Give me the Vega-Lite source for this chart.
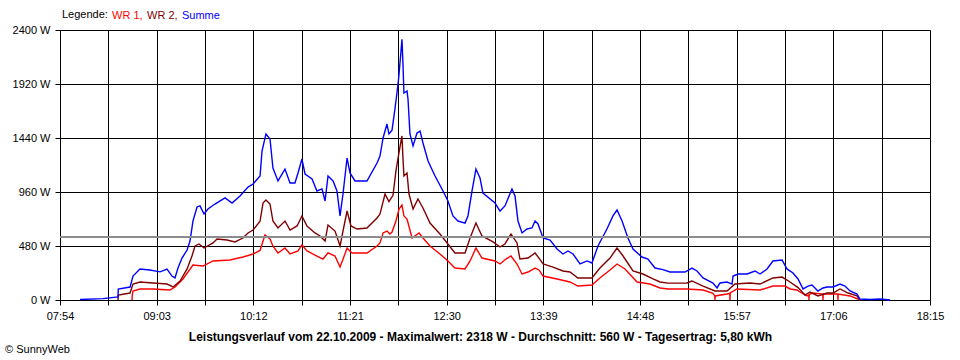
{
"$schema": "https://vega.github.io/schema/vega-lite/v6.json",
"width": 870, "height": 270,
"autosize": {"type": "none"},
"padding": {"left": 60, "top": 30, "right": 30, "bottom": 60},
"background": "white",
"config": {
  "view": {"stroke": null},
  "font": "Liberation Sans",
  "axis": {"domainColor": "black", "gridColor": "black", "gridOpacity": 1, "gridWidth": 1, "tickColor": "black", "tickSize": 5, "labelColor": "black", "labelFont": "Liberation Sans", "labelFontSize": 11, "labelPadding": 5, "domainWidth": 1}
},
"title": {"text": "© SunnyWeb", "orient": "bottom", "anchor": "start", "frame": "bounds", "font": "Liberation Sans", "fontSize": 11, "fontWeight": "normal", "color": "black", "offset": 0, "dx": -7, "dy": 2},
"datasets": {
"d": [
{"t":525.4,"s":"WR 1","w":0},{"t":525.5,"s":"WR 1","w":36},{"t":526.1,"s":"WR 1","w":80},{"t":531.1,"s":"WR 1","w":98},{"t":540.4,"s":"WR 1","w":98},{"t":552.5,"s":"WR 1","w":89},{"t":556.1,"s":"WR 1","w":116},{"t":561.8,"s":"WR 1","w":187},{"t":568.9,"s":"WR 1","w":311},{"t":576.1,"s":"WR 1","w":302},{"t":583.2,"s":"WR 1","w":347},{"t":595.3,"s":"WR 1","w":356},{"t":604.6,"s":"WR 1","w":382},{"t":611.8,"s":"WR 1","w":409},{"t":616.8,"s":"WR 1","w":440},{"t":620.3,"s":"WR 1","w":578},{"t":623.9,"s":"WR 1","w":542},{"t":626.0,"s":"WR 1","w":480},{"t":629.6,"s":"WR 1","w":418},{"t":634.6,"s":"WR 1","w":462},{"t":638.2,"s":"WR 1","w":409},{"t":643.9,"s":"WR 1","w":436},{"t":646.7,"s":"WR 1","w":489},{"t":650.3,"s":"WR 1","w":436},{"t":657.4,"s":"WR 1","w":391},{"t":661.7,"s":"WR 1","w":364},{"t":665.3,"s":"WR 1","w":418},{"t":670.3,"s":"WR 1","w":391},{"t":673.9,"s":"WR 1","w":293},{"t":677.4,"s":"WR 1","w":409},{"t":678.9,"s":"WR 1","w":462},{"t":682.4,"s":"WR 1","w":418},{"t":693.1,"s":"WR 1","w":418},{"t":700.3,"s":"WR 1","w":480},{"t":702.4,"s":"WR 1","w":507},{"t":704.6,"s":"WR 1","w":596},{"t":707.4,"s":"WR 1","w":613},{"t":709.5,"s":"WR 1","w":587},{"t":711.0,"s":"WR 1","w":604},{"t":713.8,"s":"WR 1","w":702},{"t":716.0,"s":"WR 1","w":809},{"t":718.1,"s":"WR 1","w":844},{"t":719.5,"s":"WR 1","w":747},{"t":721.7,"s":"WR 1","w":720},{"t":725.3,"s":"WR 1","w":551},{"t":730.3,"s":"WR 1","w":596},{"t":733.1,"s":"WR 1","w":551},{"t":738.1,"s":"WR 1","w":480},{"t":745.2,"s":"WR 1","w":409},{"t":750.9,"s":"WR 1","w":347},{"t":755.9,"s":"WR 1","w":284},{"t":763.1,"s":"WR 1","w":276},{"t":766.7,"s":"WR 1","w":347},{"t":770.9,"s":"WR 1","w":462},{"t":775.2,"s":"WR 1","w":373},{"t":784.5,"s":"WR 1","w":347},{"t":788.1,"s":"WR 1","w":320},{"t":792.3,"s":"WR 1","w":364},{"t":795.9,"s":"WR 1","w":391},{"t":800.2,"s":"WR 1","w":320},{"t":803.8,"s":"WR 1","w":231},{"t":808.1,"s":"WR 1","w":249},{"t":813.1,"s":"WR 1","w":284},{"t":815.9,"s":"WR 1","w":267},{"t":818.8,"s":"WR 1","w":213},{"t":828.8,"s":"WR 1","w":187},{"t":838.0,"s":"WR 1","w":160},{"t":843.7,"s":"WR 1","w":124},{"t":853.7,"s":"WR 1","w":133},{"t":859.4,"s":"WR 1","w":196},{"t":866.6,"s":"WR 1","w":267},{"t":871.6,"s":"WR 1","w":320},{"t":877.3,"s":"WR 1","w":276},{"t":885.9,"s":"WR 1","w":160},{"t":895.1,"s":"WR 1","w":142},{"t":902.3,"s":"WR 1","w":107},{"t":908.0,"s":"WR 1","w":98},{"t":921.5,"s":"WR 1","w":98},{"t":933.0,"s":"WR 1","w":89},{"t":940.1,"s":"WR 1","w":60},{"t":941.4,"s":"WR 1","w":36},{"t":941.5,"s":"WR 1","w":0},{"t":941.7,"s":"WR 1","w":36},{"t":950.1,"s":"WR 1","w":53},{"t":952.1,"s":"WR 1","w":60},{"t":952.2,"s":"WR 1","w":0},{"t":952.4,"s":"WR 1","w":62},{"t":957.2,"s":"WR 1","w":98},{"t":973.7,"s":"WR 1","w":89},{"t":982.9,"s":"WR 1","w":124},{"t":991.5,"s":"WR 1","w":124},{"t":995.1,"s":"WR 1","w":98},{"t":1000.1,"s":"WR 1","w":89},{"t":1002.2,"s":"WR 1","w":71},{"t":1007.2,"s":"WR 1","w":36},{"t":1008.5,"s":"WR 1","w":45},{"t":1008.6,"s":"WR 1","w":0},{"t":1008.8,"s":"WR 1","w":50},{"t":1011.5,"s":"WR 1","w":62},{"t":1018.5,"s":"WR 1","w":53},{"t":1018.6,"s":"WR 1","w":0},{"t":1018.8,"s":"WR 1","w":53},{"t":1029.2,"s":"WR 1","w":53},{"t":1029.3,"s":"WR 1","w":0},{"t":1029.5,"s":"WR 1","w":53},{"t":1037.9,"s":"WR 1","w":36},{"t":1043.6,"s":"WR 1","w":9},{"t":1045.0,"s":"WR 1","w":0},

{"t":515.4,"s":"WR 2","w":0},{"t":515.6,"s":"WR 2","w":44},{"t":524.0,"s":"WR 2","w":62},{"t":526.1,"s":"WR 2","w":142},{"t":531.1,"s":"WR 2","w":160},{"t":540.4,"s":"WR 2","w":151},{"t":550.4,"s":"WR 2","w":142},{"t":554.7,"s":"WR 2","w":116},{"t":559.7,"s":"WR 2","w":169},{"t":564.7,"s":"WR 2","w":276},{"t":568.2,"s":"WR 2","w":391},{"t":570.4,"s":"WR 2","w":480},{"t":573.2,"s":"WR 2","w":498},{"t":576.8,"s":"WR 2","w":462},{"t":583.2,"s":"WR 2","w":507},{"t":586.1,"s":"WR 2","w":542},{"t":593.2,"s":"WR 2","w":533},{"t":598.9,"s":"WR 2","w":516},{"t":604.6,"s":"WR 2","w":551},{"t":608.2,"s":"WR 2","w":596},{"t":611.8,"s":"WR 2","w":622},{"t":616.8,"s":"WR 2","w":700},{"t":618.9,"s":"WR 2","w":862},{"t":621.0,"s":"WR 2","w":889},{"t":623.9,"s":"WR 2","w":853},{"t":626.0,"s":"WR 2","w":702},{"t":629.6,"s":"WR 2","w":640},{"t":634.6,"s":"WR 2","w":702},{"t":638.2,"s":"WR 2","w":622},{"t":643.2,"s":"WR 2","w":658},{"t":646.7,"s":"WR 2","w":747},{"t":650.3,"s":"WR 2","w":658},{"t":656.0,"s":"WR 2","w":596},{"t":659.6,"s":"WR 2","w":569},{"t":663.2,"s":"WR 2","w":524},{"t":665.3,"s":"WR 2","w":667},{"t":670.3,"s":"WR 2","w":613},{"t":673.9,"s":"WR 2","w":480},{"t":676.0,"s":"WR 2","w":613},{"t":678.9,"s":"WR 2","w":791},{"t":681.7,"s":"WR 2","w":658},{"t":686.0,"s":"WR 2","w":631},{"t":693.1,"s":"WR 2","w":640},{"t":700.3,"s":"WR 2","w":729},{"t":702.4,"s":"WR 2","w":764},{"t":706.0,"s":"WR 2","w":942},{"t":708.8,"s":"WR 2","w":875},{"t":711.7,"s":"WR 2","w":930},{"t":713.8,"s":"WR 2","w":1147},{"t":715.3,"s":"WR 2","w":1262},{"t":717.4,"s":"WR 2","w":1413},{"t":718.1,"s":"WR 2","w":1458},{"t":718.8,"s":"WR 2","w":1262},{"t":719.5,"s":"WR 2","w":1102},{"t":721.7,"s":"WR 2","w":1129},{"t":723.1,"s":"WR 2","w":942},{"t":726.0,"s":"WR 2","w":809},{"t":729.5,"s":"WR 2","w":898},{"t":733.1,"s":"WR 2","w":818},{"t":738.1,"s":"WR 2","w":684},{"t":745.2,"s":"WR 2","w":587},{"t":750.9,"s":"WR 2","w":498},{"t":755.9,"s":"WR 2","w":418},{"t":763.1,"s":"WR 2","w":418},{"t":766.7,"s":"WR 2","w":551},{"t":770.9,"s":"WR 2","w":684},{"t":775.2,"s":"WR 2","w":569},{"t":783.1,"s":"WR 2","w":516},{"t":788.1,"s":"WR 2","w":471},{"t":791.6,"s":"WR 2","w":498},{"t":795.9,"s":"WR 2","w":587},{"t":800.2,"s":"WR 2","w":507},{"t":802.3,"s":"WR 2","w":364},{"t":808.1,"s":"WR 2","w":373},{"t":813.1,"s":"WR 2","w":418},{"t":815.9,"s":"WR 2","w":373},{"t":818.8,"s":"WR 2","w":320},{"t":825.9,"s":"WR 2","w":293},{"t":833.0,"s":"WR 2","w":258},{"t":838.0,"s":"WR 2","w":249},{"t":843.7,"s":"WR 2","w":196},{"t":853.7,"s":"WR 2","w":196},{"t":859.4,"s":"WR 2","w":284},{"t":866.6,"s":"WR 2","w":373},{"t":871.6,"s":"WR 2","w":462},{"t":875.9,"s":"WR 2","w":391},{"t":883.0,"s":"WR 2","w":258},{"t":890.1,"s":"WR 2","w":231},{"t":897.3,"s":"WR 2","w":187},{"t":902.3,"s":"WR 2","w":160},{"t":908.0,"s":"WR 2","w":150},{"t":921.5,"s":"WR 2","w":151},{"t":925.1,"s":"WR 2","w":169},{"t":933.0,"s":"WR 2","w":124},{"t":941.5,"s":"WR 2","w":80},{"t":950.1,"s":"WR 2","w":80},{"t":955.8,"s":"WR 2","w":142},{"t":966.5,"s":"WR 2","w":151},{"t":973.7,"s":"WR 2","w":142},{"t":982.9,"s":"WR 2","w":196},{"t":989.4,"s":"WR 2","w":204},{"t":995.1,"s":"WR 2","w":160},{"t":1000.8,"s":"WR 2","w":110},{"t":1005.8,"s":"WR 2","w":44},{"t":1009.3,"s":"WR 2","w":71},{"t":1015.0,"s":"WR 2","w":36},{"t":1021.5,"s":"WR 2","w":62},{"t":1025.8,"s":"WR 2","w":62},{"t":1030.8,"s":"WR 2","w":98},{"t":1036.5,"s":"WR 2","w":62},{"t":1042.9,"s":"WR 2","w":36},{"t":1045.0,"s":"WR 2","w":0},

{"t":488.3,"s":"Summe","w":5},{"t":504.7,"s":"Summe","w":12},{"t":515.4,"s":"Summe","w":27},{"t":515.6,"s":"Summe","w":98},{"t":524.0,"s":"Summe","w":115},{"t":526.1,"s":"Summe","w":213},{"t":531.1,"s":"Summe","w":275},{"t":538.2,"s":"Summe","w":267},{"t":545.4,"s":"Summe","w":250},{"t":550.4,"s":"Summe","w":275},{"t":553.9,"s":"Summe","w":213},{"t":556.1,"s":"Summe","w":196},{"t":558.2,"s":"Summe","w":285},{"t":561.1,"s":"Summe","w":373},{"t":564.7,"s":"Summe","w":444},{"t":566.8,"s":"Summe","w":524},{"t":568.9,"s":"Summe","w":702},{"t":571.8,"s":"Summe","w":827},{"t":573.9,"s":"Summe","w":836},{"t":576.8,"s":"Summe","w":764},{"t":579.6,"s":"Summe","w":809},{"t":584.6,"s":"Summe","w":853},{"t":591.8,"s":"Summe","w":907},{"t":596.8,"s":"Summe","w":862},{"t":602.5,"s":"Summe","w":924},{"t":608.2,"s":"Summe","w":1004},{"t":611.8,"s":"Summe","w":1031},{"t":616.8,"s":"Summe","w":1102},{"t":618.2,"s":"Summe","w":1324},{"t":621.0,"s":"Summe","w":1476},{"t":623.9,"s":"Summe","w":1431},{"t":626.0,"s":"Summe","w":1173},{"t":629.6,"s":"Summe","w":1058},{"t":634.6,"s":"Summe","w":1164},{"t":638.2,"s":"Summe","w":1040},{"t":641.7,"s":"Summe","w":1040},{"t":643.9,"s":"Summe","w":1129},{"t":646.7,"s":"Summe","w":1253},{"t":648.9,"s":"Summe","w":1120},{"t":653.9,"s":"Summe","w":1076},{"t":657.4,"s":"Summe","w":969},{"t":661.0,"s":"Summe","w":987},{"t":663.2,"s":"Summe","w":880},{"t":665.3,"s":"Summe","w":1102},{"t":668.9,"s":"Summe","w":1058},{"t":671.7,"s":"Summe","w":969},{"t":673.9,"s":"Summe","w":747},{"t":676.0,"s":"Summe","w":942},{"t":678.9,"s":"Summe","w":1262},{"t":681.0,"s":"Summe","w":1129},{"t":684.6,"s":"Summe","w":1058},{"t":693.1,"s":"Summe","w":1058},{"t":700.3,"s":"Summe","w":1218},{"t":702.4,"s":"Summe","w":1280},{"t":704.6,"s":"Summe","w":1440},{"t":707.4,"s":"Summe","w":1564},{"t":708.8,"s":"Summe","w":1476},{"t":711.0,"s":"Summe","w":1510},{"t":713.1,"s":"Summe","w":1700},{"t":715.3,"s":"Summe","w":1920},{"t":716.0,"s":"Summe","w":2009},{"t":717.4,"s":"Summe","w":2213},{"t":718.1,"s":"Summe","w":2318},{"t":718.8,"s":"Summe","w":2098},{"t":719.5,"s":"Summe","w":1840},{"t":721.7,"s":"Summe","w":1858},{"t":722.4,"s":"Summe","w":1787},{"t":723.8,"s":"Summe","w":1476},{"t":726.0,"s":"Summe","w":1369},{"t":728.8,"s":"Summe","w":1484},{"t":731.0,"s":"Summe","w":1502},{"t":733.1,"s":"Summe","w":1396},{"t":736.7,"s":"Summe","w":1236},{"t":741.7,"s":"Summe","w":1102},{"t":747.4,"s":"Summe","w":969},{"t":750.9,"s":"Summe","w":880},{"t":754.5,"s":"Summe","w":747},{"t":758.1,"s":"Summe","w":702},{"t":763.1,"s":"Summe","w":684},{"t":765.2,"s":"Summe","w":747},{"t":768.1,"s":"Summe","w":969},{"t":770.9,"s":"Summe","w":1164},{"t":773.8,"s":"Summe","w":1084},{"t":775.9,"s":"Summe","w":951},{"t":784.5,"s":"Summe","w":862},{"t":788.1,"s":"Summe","w":791},{"t":791.6,"s":"Summe","w":836},{"t":796.6,"s":"Summe","w":987},{"t":798.8,"s":"Summe","w":924},{"t":800.9,"s":"Summe","w":702},{"t":803.8,"s":"Summe","w":596},{"t":807.3,"s":"Summe","w":631},{"t":810.9,"s":"Summe","w":640},{"t":813.1,"s":"Summe","w":702},{"t":815.2,"s":"Summe","w":676},{"t":818.8,"s":"Summe","w":551},{"t":823.8,"s":"Summe","w":533},{"t":828.8,"s":"Summe","w":453},{"t":833.0,"s":"Summe","w":409},{"t":836.6,"s":"Summe","w":436},{"t":840.2,"s":"Summe","w":409},{"t":845.2,"s":"Summe","w":320},{"t":850.2,"s":"Summe","w":347},{"t":853.7,"s":"Summe","w":329},{"t":858.0,"s":"Summe","w":480},{"t":864.4,"s":"Summe","w":631},{"t":868.7,"s":"Summe","w":747},{"t":871.6,"s":"Summe","w":800},{"t":875.2,"s":"Summe","w":702},{"t":879.4,"s":"Summe","w":551},{"t":883.0,"s":"Summe","w":453},{"t":889.4,"s":"Summe","w":382},{"t":893.7,"s":"Summe","w":364},{"t":898.7,"s":"Summe","w":284},{"t":904.4,"s":"Summe","w":270},{"t":909.4,"s":"Summe","w":249},{"t":920.1,"s":"Summe","w":249},{"t":925.1,"s":"Summe","w":284},{"t":928.7,"s":"Summe","w":258},{"t":933.0,"s":"Summe","w":196},{"t":940.1,"s":"Summe","w":151},{"t":943.0,"s":"Summe","w":107},{"t":945.1,"s":"Summe","w":151},{"t":950.1,"s":"Summe","w":160},{"t":953.7,"s":"Summe","w":142},{"t":954.4,"s":"Summe","w":213},{"t":958.0,"s":"Summe","w":231},{"t":964.4,"s":"Summe","w":231},{"t":970.1,"s":"Summe","w":258},{"t":973.7,"s":"Summe","w":231},{"t":978.7,"s":"Summe","w":276},{"t":982.9,"s":"Summe","w":347},{"t":989.4,"s":"Summe","w":356},{"t":992.9,"s":"Summe","w":276},{"t":997.2,"s":"Summe","w":240},{"t":1000.8,"s":"Summe","w":187},{"t":1004.4,"s":"Summe","w":98},{"t":1007.9,"s":"Summe","w":124},{"t":1010.8,"s":"Summe","w":133},{"t":1015.0,"s":"Summe","w":80},{"t":1018.6,"s":"Summe","w":107},{"t":1021.5,"s":"Summe","w":116},{"t":1025.8,"s":"Summe","w":116},{"t":1030.8,"s":"Summe","w":142},{"t":1034.3,"s":"Summe","w":124},{"t":1037.9,"s":"Summe","w":80},{"t":1042.9,"s":"Summe","w":53},{"t":1045.0,"s":"Summe","w":9},{"t":1052.2,"s":"Summe","w":5},{"t":1059.3,"s":"Summe","w":9},{"t":1066.5,"s":"Summe","w":0}
]
},
"data": {"name": "d"},
"layer": [
  {
    "mark": {"type": "line", "strokeWidth": 1.4, "interpolate": "linear"},
    "encoding": {
      "x": {"field": "t", "type": "quantitative",
            "scale": {"domain": [474, 1095], "nice": false, "zero": false},
            "axis": {
              "grid": true,
              "values": [474,508.5,543,577.5,612,646.5,681,715.5,750,784.5,819,853.5,888,922.5,957,991.5,1026,1060.5,1095],
              "labelExpr": "(datum.value-474)%69==0 ? ((floor(datum.value/60)<10?'0':'')+floor(datum.value/60)+':'+((datum.value%60)<10?'0':'')+(datum.value%60)) : ''",
              "labelFlush": false,
              "title": "Leistungsverlauf vom 22.10.2009 - Maximalwert: 2318 W - Durchschnitt: 560 W - Tagesertrag: 5,80 kWh",
              "titleFont": "Liberation Sans", "titleFontSize": 12, "titleFontWeight": "bold", "titleColor": "black",
              "titleAnchor": "middle", "titleX": 420, "titlePadding": 10
            }},
      "y": {"field": "w", "type": "quantitative",
            "scale": {"domain": [0, 2400], "nice": false},
            "axis": {"grid": true, "values": [0,480,960,1440,1920,2400], "labelExpr": "datum.value + ' W'", "title": null}},
      "color": {"field": "s", "type": "nominal",
                "scale": {"domain": ["WR 1", "WR 2", "Summe"], "range": ["#ff0000", "#800000", "#0000ff"]},
                "legend": {"orient": "none", "legendX": 2, "legendY": -20, "direction": "horizontal", "columns": 3,
                           "title": "Legende:", "titleOrient": "left", "titleFontWeight": "normal", "titleFontSize": 11, "titleFont": "Liberation Sans", "titleColor": "black", "titlePadding": 4,
                           "labelFont": "Liberation Sans", "labelFontSize": 11, "symbolSize": 1, "symbolOpacity": 0, "symbolStrokeWidth": 0, "labelOffset": -11, "columnPadding": 4,
                           "labelExpr": "datum.label == 'Summe' ? 'Summe' : datum.label + ','",
                           "encode": {"labels": {"update": {"fill": {"scale": "color", "field": "value"}}}}}}
    }
  },
  {
    "mark": {"type": "rule", "color": "#8c8c8c", "strokeWidth": 1},
    "encoding": {"y": {"datum": 560, "type": "quantitative",
                       "axis": {"grid": true, "values": [0,480,960,1440,1920,2400], "labelExpr": "datum.value + ' W'", "title": null}}}
  }
]
}
